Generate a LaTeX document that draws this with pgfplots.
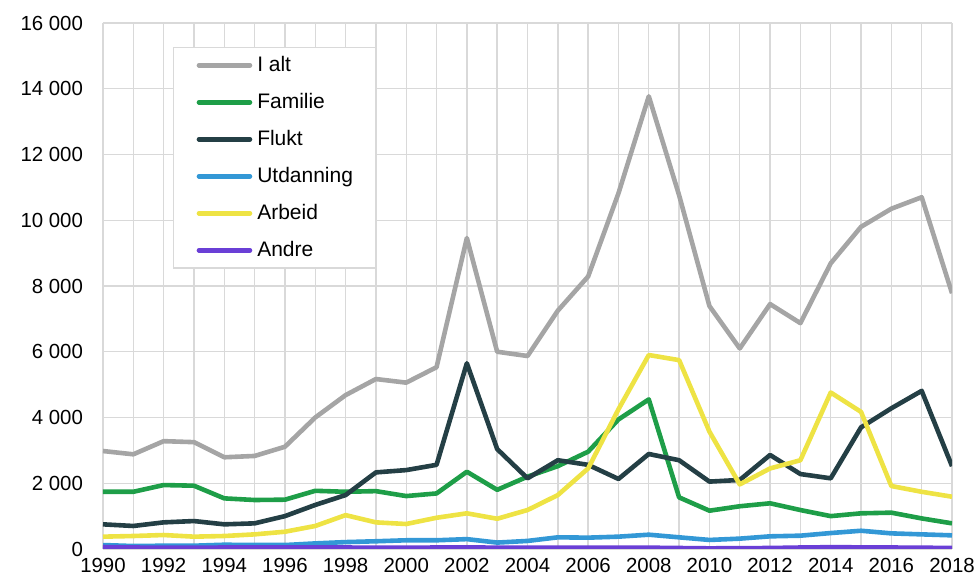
\documentclass[border=0pt]{standalone}
\usepackage{pgfplots}
\pgfplotsset{compat=1.18}
\usepackage{fontspec}
\setmainfont{Liberation Sans}
\definecolor{cAlt}{HTML}{A5A5A5}
\definecolor{cFam}{HTML}{1E9E48}
\definecolor{cFlu}{HTML}{243F45}
\definecolor{cUtd}{HTML}{3398D6}
\definecolor{cArb}{HTML}{EEE344}
\definecolor{cAnd}{HTML}{6A3FD6}
\definecolor{cGrid}{HTML}{D9D9D9}
\begin{document}
\begin{tikzpicture}
\begin{axis}[
  scale only axis,
  width=424.5pt, height=263pt,
  xmin=1990, xmax=2018, ymin=0, ymax=16000,
  xtick={1990,1992,...,2018},
  minor xtick={1991,1993,...,2017},
  ytick={0,2000,...,16000},
  scaled y ticks=false,
  grid=both,
  major grid style={cGrid, line width=0.7pt},
  minor grid style={cGrid, line width=0.7pt},
  axis line style={draw=none},
  major tick length=0pt, minor tick length=0pt,
  tick label style={font=\fontsize{10.2}{11.5}\selectfont, text=black},
  /pgf/number format/assume math mode=true,
  x tick label style={/pgf/number format/1000 sep={}, yshift=-1.2pt},
  y tick label style={/pgf/number format/fixed, /pgf/number format/1000 sep={\ }, xshift=-6.5pt},
  legend style={at={(0.0824,0.9544)}, anchor=north west, draw=cGrid, line width=0.7pt,
    font=\fontsize{10.5}{12}\selectfont, inner xsep=11.5pt, inner ysep=4.2pt,
    row sep=9.3pt, column sep=2.5pt,
    nodes={inner sep=0pt, text height=7.5pt, text depth=1.7pt, anchor=west}},
  legend cell align=left,
  legend image code/.code={\draw[#1, line width=2.3pt, line cap=round] (0.5pt,0pt) -- (26pt,0pt);},
  every axis plot/.append style={line width=2.3pt, line join=round, mark=none},
]
\addplot[cAlt] coordinates {(1990,2980)(1991,2880)(1992,3280)(1993,3250)(1994,2790)(1995,2830)(1996,3110)(1997,4000)(1998,4680)(1999,5170)(2000,5060)(2001,5530)(2002,9460)(2003,6000)(2004,5870)(2005,7250)(2006,8290)(2007,10820)(2008,13770)(2009,10760)(2010,7390)(2011,6100)(2012,7450)(2013,6870)(2014,8690)(2015,9800)(2016,10350)(2017,10700)(2018,7780)};
\addlegendentry{I alt}
\addplot[cFam] coordinates {(1990,1740)(1991,1740)(1992,1945)(1993,1925)(1994,1540)(1995,1490)(1996,1500)(1997,1770)(1998,1740)(1999,1760)(2000,1610)(2001,1690)(2002,2350)(2003,1800)(2004,2200)(2005,2520)(2006,2960)(2007,3940)(2008,4550)(2009,1570)(2010,1165)(2011,1300)(2012,1390)(2013,1185)(2014,1000)(2015,1085)(2016,1105)(2017,930)(2018,780)};
\addlegendentry{Familie}
\addplot[cFlu] coordinates {(1990,750)(1991,700)(1992,810)(1993,850)(1994,750)(1995,780)(1996,1000)(1997,1340)(1998,1640)(1999,2330)(2000,2400)(2001,2560)(2002,5650)(2003,3040)(2004,2150)(2005,2700)(2006,2560)(2007,2130)(2008,2890)(2009,2700)(2010,2050)(2011,2100)(2012,2860)(2013,2280)(2014,2150)(2015,3700)(2016,4280)(2017,4810)(2018,2520)};
\addlegendentry{Flukt}
\addplot[cUtd] coordinates {(1990,120)(1991,90)(1992,100)(1993,100)(1994,130)(1995,120)(1996,120)(1997,170)(1998,210)(1999,235)(2000,265)(2001,265)(2002,300)(2003,195)(2004,245)(2005,355)(2006,345)(2007,375)(2008,435)(2009,355)(2010,275)(2011,315)(2012,385)(2013,405)(2014,485)(2015,555)(2016,475)(2017,445)(2018,415)};
\addlegendentry{Utdanning}
\addplot[cArb] coordinates {(1990,375)(1991,395)(1992,425)(1993,375)(1994,395)(1995,445)(1996,525)(1997,700)(1998,1030)(1999,810)(2000,760)(2001,950)(2002,1085)(2003,920)(2004,1185)(2005,1640)(2006,2450)(2007,4250)(2008,5900)(2009,5745)(2010,3570)(2011,1965)(2012,2450)(2013,2700)(2014,4760)(2015,4170)(2016,1915)(2017,1740)(2018,1590)};
\addlegendentry{Arbeid}
\addplot[cAnd] coordinates {(1990,60)(1991,45)(1992,40)(1993,40)(1994,45)(1995,45)(1996,45)(1997,45)(1998,45)(1999,40)(2000,40)(2001,45)(2002,50)(2003,40)(2004,40)(2005,40)(2006,40)(2007,40)(2008,40)(2009,30)(2010,20)(2011,25)(2012,30)(2013,45)(2014,55)(2015,50)(2016,45)(2017,40)(2018,30)};
\addlegendentry{Andre}
\coordinate (bl) at (rel axis cs:0,0);
\coordinate (tr) at (rel axis cs:1,1);
\end{axis}
\pgfresetboundingbox
\path[use as bounding box] ([shift={(-51.5pt,-13.5pt)}]bl) rectangle ([shift={(13.5pt,11.5pt)}]tr);
\end{tikzpicture}
\end{document}
